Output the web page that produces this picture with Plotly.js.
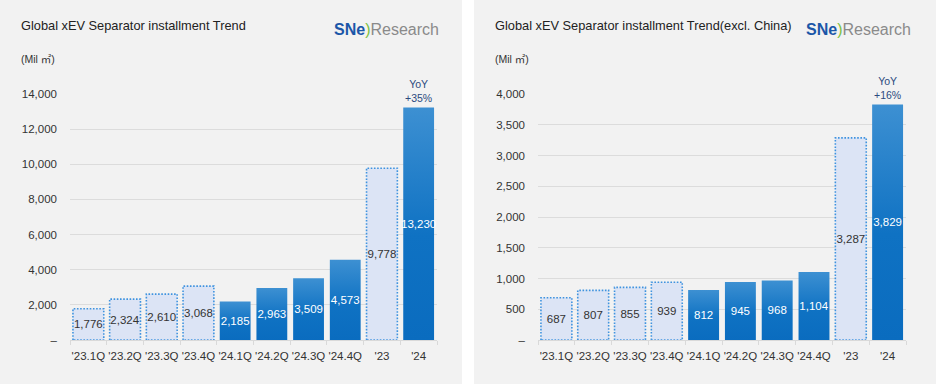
<!DOCTYPE html>
<html>
<head>
<meta charset="utf-8">
<script src="https://cdn.plot.ly/plotly-3.0.1.min.js"></script>
<style>
  html, body { margin:0; padding:0; background:#ffffff; width:936px; height:384px; overflow:hidden; }
  #left { position:absolute; left:0; top:0; width:462px; height:384px; }
  #right { position:absolute; left:474px; top:0; width:462px; height:384px; }
</style>
</head>
<body>
<svg width="0" height="0" style="position:absolute">
  <defs>
    <linearGradient id="blueGrad" x1="0" y1="0" x2="0" y2="1">
      <stop offset="0" stop-color="#3d90d2"/>
      <stop offset="0.55" stop-color="#0f72c3"/>
      <stop offset="1" stop-color="#0a6cbf"/>
    </linearGradient>
  </defs>
</svg>
<div id="left"></div>
<div id="right"></div>
<script>
const categories = ["'23.1Q", "'23.2Q", "'23.3Q", "'23.4Q", "'24.1Q", "'24.2Q", "'24.3Q", "'24.4Q", "'23", "'24"];
const globalValues = [1776, 2324, 2610, 3068, 2185, 2963, 3509, 4573, 9778, 13230];
const exChinaValues = [687, 807, 855, 939, 812, 945, 968, 1104, 3287, 3829];
const globalTicks = [0, 2000, 4000, 6000, 8000, 10000, 12000, 14000];
const exChinaTicks = [0, 500, 1000, 1500, 2000, 2500, 3000, 3500, 4000];
const titles = ["Global xEV Separator installment Trend", "Global xEV Separator installment Trend(excl. China)"];
const unitLabel = "(Mil ㎡)";

const FONT = '"Liberation Sans", Arial, "Noto Sans CJK KR", sans-serif';
const PANEL = '#f2f2f2';

function isBase(c) { return c.startsWith("'23"); }

function draw(div, values, ticks, title, marginL, marginR, titleX, logoX) {
  const fmt = v => v.toLocaleString('en-US');
  const base = categories.map(isBase);
  const trace = {
    type: 'bar',
    x: categories,
    y: values,
    text: values.map(fmt),
    textposition: 'inside',
    insidetextanchor: 'middle',
    constraintext: 'none',
    textangle: 0,
    textfont: { family: FONT, size: 11.5, color: base.map(b => b ? '#333333' : '#ffffff') },
    marker: {
      color: base.map(b => b ? '#dce4f5' : '#1273c4'),
      line: { color: base.map(b => b ? '#3f93df' : 'rgba(0,0,0,0)'), width: base.map(b => b ? 1.6 : 0) }
    },
    hoverinfo: 'skip',
    cliponaxis: false
  };
  const yoy = Math.round((values[9] / values[8] - 1) * 100);
  const top = ticks[ticks.length - 1];
  const layout = {
    width: 462, height: 384,
    margin: { l: marginL, r: marginR, t: 94, b: 44 },
    paper_bgcolor: PANEL, plot_bgcolor: PANEL,
    showlegend: false,
    bargap: 0.16,
    font: { family: FONT, color: '#333333' },
    xaxis: {
      type: 'category', categoryorder: 'array', categoryarray: categories,
      showgrid: false, showline: true, linecolor: '#d9d9d9', linewidth: 1,
      ticks: 'outside', tickson: 'boundaries', ticklen: 4, tickcolor: '#d9d9d9',
      tickangle: 0,
      tickfont: { family: FONT, size: 11.5, color: '#333333' },
      ticklabelstandoff: 5, fixedrange: true
    },
    yaxis: {
      range: [0, top], tickvals: ticks,
      ticktext: ticks.map(t => t === 0 ? '–' : fmt(t)),
      showgrid: true, gridcolor: '#dcdcdc', gridwidth: 1, zeroline: false,
      tickfont: { family: FONT, size: 11.5, color: '#333333' },
      ticklabelstandoff: 12, fixedrange: true
    },
    annotations: [
      { xref: 'paper', yref: 'paper', x: titleX, y: 1, xanchor: 'left', yanchor: 'middle',
        yshift: 94 - 25, text: title, showarrow: false,
        font: { family: FONT, size: 12.8, color: '#222222' } },
      { xref: 'paper', yref: 'paper', x: titleX, y: 1, xanchor: 'left', yanchor: 'middle',
        yshift: 94 - 59, text: unitLabel, showarrow: false,
        font: { family: FONT, size: 10.5, color: '#333333' } },
      { xref: 'paper', yref: 'paper', x: logoX, y: 1, xanchor: 'right', yanchor: 'middle',
        yshift: 94 - 29, showarrow: false,
        text: '<b><span style="color:#1b56a8">SN</span><span style="color:#1b56a8">e</span></b><span style="color:#7dc142">)</span><span style="color:#8a8a8a">Research</span>',
        font: { family: FONT, size: 16, color: '#8a8a8a' } },
      { x: categories[9], y: values[9], xref: 'x', yref: 'y', yanchor: 'bottom', yshift: 2,
        text: 'YoY<br>+' + yoy + '%', showarrow: false,
        font: { family: FONT, size: 10.5, color: '#2b4a7e' } }
    ]
  };
  return Plotly.newPlot(div, [trace], layout, { staticPlot: true, displayModeBar: false }).then(gd => {
    const paths = gd.querySelectorAll('.barlayer .trace .point path');
    paths.forEach((p, i) => {
      if (base[i]) {
        p.style.strokeDasharray = '1.6,1.6';
      } else {
        p.style.fill = 'url(#blueGrad)';
      }
    });
  });
}

const Lw = 462 - 70 - 25, Rw = 462 - 64 - 30;
draw('left', globalValues, globalTicks, titles[0], 70, 25, (19 - 70) / Lw, (441 - 70) / Lw);
draw('right', exChinaValues, exChinaTicks, titles[1], 64, 30, (19 - 64) / Rw, (439 - 64) / Rw);
</script>
</body>
</html>
